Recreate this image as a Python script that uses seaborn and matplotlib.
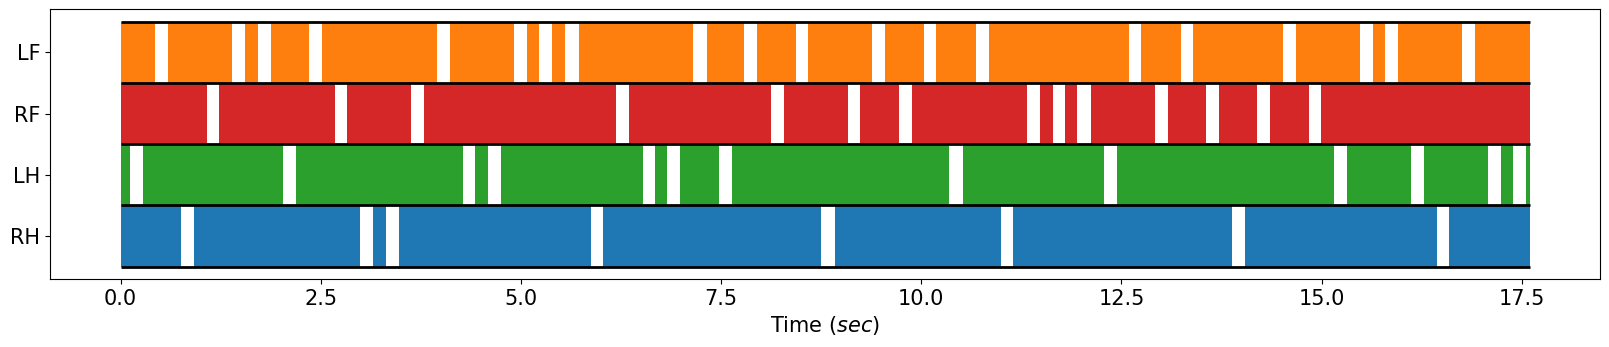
"""
plot.py
Foot contact (stance) timeline for the four legs
"""

import pandas as pd
import matplotlib
matplotlib.use('Agg')
import matplotlib.pyplot as plt
import seaborn as sns

# legs drawn bottom -> top
legs = ['RH', 'LH', 'RF', 'LF']
t_end = 17.6

# swing phases (foot in the air) per leg, (start, end) in seconds
swing_lf = [(0.43, 0.59), (1.39, 1.55), (1.72, 1.88), (2.35, 2.52), (3.95, 4.12),
            (4.92, 5.08), (5.23, 5.39), (5.55, 5.72), (7.15, 7.32), (7.79, 7.95),
            (8.44, 8.59), (9.39, 9.55), (10.04, 10.19), (10.68, 10.84), (12.59, 12.75),
            (13.24, 13.39), (14.52, 14.68), (15.48, 15.64), (15.79, 15.95), (16.75, 16.92)]
swing_rf = [(1.08, 1.23), (2.68, 2.83), (3.63, 3.79), (6.19, 6.35), (8.12, 8.28),
            (9.08, 9.24), (9.72, 9.88), (11.32, 11.48), (11.64, 11.79), (11.95, 12.12),
            (12.92, 13.08), (13.55, 13.72), (14.19, 14.35), (14.84, 14.99)]
swing_lh = [(0.12, 0.28), (2.03, 2.19), (4.28, 4.43), (4.59, 4.75), (6.52, 6.68),
            (6.83, 6.99), (7.48, 7.64), (10.35, 10.52), (12.28, 12.44), (15.15, 15.32),
            (16.12, 16.28), (17.08, 17.24), (17.39, 17.55)]
swing_rh = [(0.75, 0.92), (2.99, 3.15), (3.32, 3.48), (5.88, 6.03), (8.75, 8.92),
            (10.99, 11.15), (13.88, 14.04), (16.44, 16.59)]

swings = {'RH': swing_rh, 'LH': swing_lh, 'RF': swing_rf, 'LF': swing_lf}


def stance_table():
    """Turn the swing lists into a table of stance intervals."""
    rows = []
    for leg in legs:
        t0 = 0.0
        for s, e in swings[leg]:
            rows.append({'leg': leg, 'start': t0, 'end': s})
            t0 = e
        rows.append({'leg': leg, 'start': t0, 'end': t_end})
    df = pd.DataFrame(rows)
    df['dur'] = df['end'] - df['start']
    return df


def main():
    tab = sns.color_palette('tab10')
    colors = {'RH': tab[0], 'LH': tab[2], 'RF': tab[3], 'LF': tab[1]}

    df = stance_table()

    fig, ax = plt.subplots(figsize=(16.09, 3.47), dpi=100)
    for i, leg in enumerate(legs):
        d = df[df['leg'] == leg]
        ax.broken_barh(list(zip(d['start'], d['dur'])), (i, 1),
                       facecolors=colors[leg], edgecolor='none')

    # black separators between legs
    ax.hlines(range(len(legs) + 1), 0, t_end, color='black', lw=2.0, zorder=3)

    ax.set_yticks([i + 0.5 for i in range(len(legs))])
    ax.set_yticklabels(legs)
    ax.tick_params(labelsize=15)
    ax.set_xlabel('Time ($sec$)', fontsize=15)
    ax.margins(x=0.05, y=0.05)

    plt.subplots_adjust(left=0.0311, right=0.9946, bottom=0.196, top=0.973)
    plt.savefig('out.png', dpi=100)


if __name__ == "__main__":
    main()
